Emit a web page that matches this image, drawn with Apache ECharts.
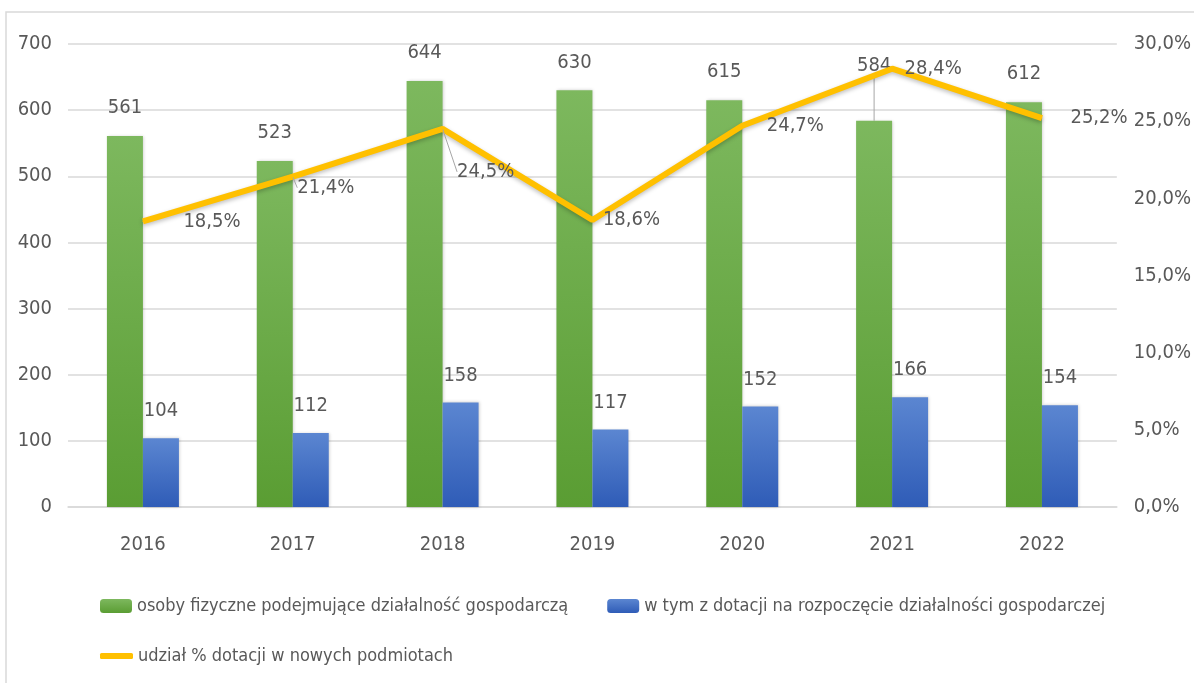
<!DOCTYPE html>
<html lang="pl">
<head>
    <meta charset="UTF-8">
    <title>Dotacje na rozpoczęcie działalności</title>
    <script src="https://cdn.jsdelivr.net/npm/echarts@6/dist/echarts.min.js"></script>
    <style>
        html, body { margin: 0; padding: 0; background: #fff; }
        #main { width: 1194px; height: 683px; }
    </style>
</head>
<body>
<div id="main"></div>

<script>
    // dane
    var years = ['2016', '2017', '2018', '2019', '2020', '2021', '2022'];
    var osoby = [561, 523, 644, 630, 615, 584, 612];
    var dotacje = [104, 112, 158, 117, 152, 166, 154];
    var udzial = [18.5, 21.4, 24.5, 18.6, 24.7, 28.4, 25.2];
    var leftTicks = [0, 700, 100];
    var rightTicks = [0, 30, 5];

    var names = [
        'osoby fizyczne podejmujące działalność gospodarczą',
        'w tym z dotacji na rozpoczęcie działalności gospodarczej',
        'udział % dotacji w nowych podmiotach'
    ];

    var font = "'DejaVu Sans Condensed', 'DejaVu Sans', sans-serif";
    var txt = '#595959';

    // przesunięcia etykiet (jak ręcznie ustawione w Excelu)
    var lineLabelMove = [[30, 0], [-6, 11], [4, 43], [0, 0], [14, 0], [2, 0], [18, 0]];
    var barLabelMove = {5: [0, -27]};

    function pct(v) {
        return v.toFixed(1).replace('.', ',') + '%';
    }

    var guide = {show: true, lineStyle: {color: '#a6a6a6', width: 1}};

    var osobyData = osoby.map(function (v, i) {
        return barLabelMove[i] ? {value: v, labelLine: guide} : v;
    });
    var udzialData = udzial.map(function (v, i) {
        var m = lineLabelMove[i];
        return m[1] > 5 ? {value: v, labelLine: guide} : v;
    });

    var myChart = echarts.init(document.getElementById('main'));

    var option = {
        backgroundColor: '#fff',
        animation: false,
        textStyle: {fontFamily: font},
        graphic: [{
            type: 'rect',
            shape: {x: 6, y: 12, width: 1300, height: 800},
            style: {fill: 'none', stroke: '#d9d9d9', lineWidth: 1.5},
            silent: true
        }],
        grid: {left: 68, right: 76, top: 44, bottom: 176},
        legend: [{
            left: 95,
            top: 592,
            width: 1090,
            itemWidth: 32,
            itemHeight: 14,
            itemGap: 39,
            data: [names[0], names[1]],
            textStyle: {fontFamily: font, fontSize: 18, color: txt}
        }, {
            left: 95,
            top: 642,
            itemWidth: 33,
            itemHeight: 6,
            data: [{name: names[2], icon: 'roundRect'}],
            textStyle: {fontFamily: font, fontSize: 18, color: txt}
        }],
        xAxis: {
            type: 'category',
            data: years,
            axisTick: {show: false},
            axisLine: {lineStyle: {color: '#d9d9d9', width: 1.5}},
            axisLabel: {fontFamily: font, fontSize: 20, color: txt, margin: 28}
        },
        yAxis: [{
            type: 'value',
            min: leftTicks[0],
            max: leftTicks[1],
            interval: leftTicks[2],
            axisLine: {show: false},
            axisTick: {show: false},
            splitLine: {lineStyle: {color: '#d9d9d9', width: 1.5}},
            axisLabel: {fontFamily: font, fontSize: 20, color: txt, margin: 16}
        }, {
            type: 'value',
            min: rightTicks[0],
            max: rightTicks[1],
            interval: rightTicks[2],
            axisLine: {show: false},
            axisTick: {show: false},
            splitLine: {show: false},
            axisLabel: {
                fontFamily: font, fontSize: 20, color: txt, margin: 17,
                formatter: function (v) { return pct(v); }
            }
        }],
        series: [{
            name: names[0],
            type: 'bar',
            data: osobyData,
            barWidth: 36,
            barGap: '0%',
            itemStyle: {
                color: new echarts.graphic.LinearGradient(0, 0, 0, 1, [
                    {offset: 0, color: '#7db85e'},
                    {offset: 1, color: '#5a9d33'}
                ]),
                shadowBlur: 3,
                shadowColor: 'rgba(0,0,0,0.2)',
                shadowOffsetX: 1
            },
            label: {
                show: true, position: 'top', distance: 18,
                fontFamily: font, fontSize: 20, color: txt
            },
            labelLayout: function (p) {
                var m = barLabelMove[p.dataIndex];
                return m ? {dx: m[0], dy: m[1]} : {};
            }
        }, {
            name: names[1],
            type: 'bar',
            data: dotacje,
            barWidth: 36,
            itemStyle: {
                color: new echarts.graphic.LinearGradient(0, 0, 0, 1, [
                    {offset: 0, color: '#5b86d1'},
                    {offset: 1, color: '#2f5cb7'}
                ]),
                shadowBlur: 3,
                shadowColor: 'rgba(0,0,0,0.2)',
                shadowOffsetX: 1
            },
            label: {
                show: true, position: 'top', distance: 17,
                fontFamily: font, fontSize: 20, color: txt
            }
        }, {
            name: names[2],
            type: 'line',
            yAxisIndex: 1,
            data: udzialData,
            symbol: 'circle',
            symbolSize: 1,
            z: 5,
            lineStyle: {
                color: '#ffc000', width: 6,
                shadowBlur: 4, shadowColor: 'rgba(0,0,0,0.25)', shadowOffsetY: 2
            },
            itemStyle: {color: '#ffc000'},
            label: {
                show: true, position: 'right', distance: 10,
                fontFamily: font, fontSize: 20, color: txt,
                formatter: function (p) { return pct(p.value); }
            },
            labelLayout: function (p) {
                var m = lineLabelMove[p.dataIndex];
                return {dx: m[0], dy: m[1]};
            }
        }]
    };

    myChart.setOption(option, true);
</script>
</body>
</html>
